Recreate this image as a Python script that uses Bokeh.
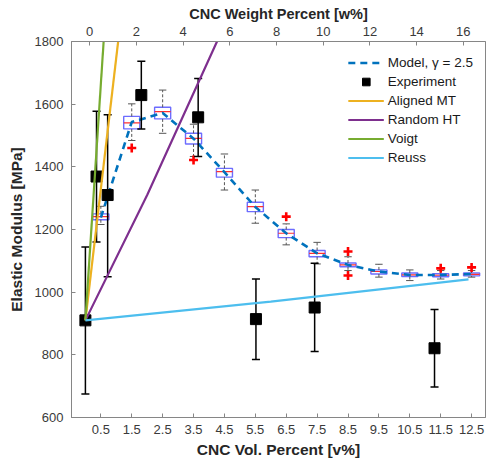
import math
from bokeh.plotting import figure
from bokeh.models import Range1d, LinearAxis, FixedTicker, Legend, LegendItem
from bokeh.embed import file_html
from bokeh.resources import INLINE

# ---------------- data ----------------
vol_ticks = [0.5, 1.5, 2.5, 3.5, 4.5, 5.5, 6.5, 7.5, 8.5, 9.5, 10.5, 11.5, 12.5]
wt_ticks = [0, 2, 4, 6, 8, 10, 12, 14, 16]
y_ticks = [600, 800, 1000, 1200, 1400, 1600, 1800]

# model box plots (vol %)
box_x = [0.5, 1.5, 2.5, 3.5, 4.5, 5.5, 6.5, 7.5, 8.5, 9.5, 10.5, 11.5, 12.5]
box_wlo = [1216, 1484, 1507, 1433, 1326, 1220, 1151, 1090, 1069, 1048, 1037, 1042, 1048]
box_q1 = [1231, 1521, 1553, 1473, 1367, 1257, 1174, 1113, 1081, 1058, 1050, 1049, 1052]
box_med = [1241, 1540, 1576, 1491, 1385, 1273, 1188, 1124, 1087, 1066, 1055, 1054, 1057]
box_q3 = [1250, 1561, 1590, 1507, 1395, 1287, 1200, 1133, 1093, 1071, 1061, 1059, 1061]
box_whi = [1274, 1601, 1645, 1536, 1441, 1326, 1218, 1159, 1113, 1089, 1071, 1069, 1069]
outlier_x = [1.5, 3.5, 6.5, 8.5, 8.5, 11.5, 12.5]
outlier_y = [1460, 1422, 1241, 1130, 1053, 1076, 1079]

# model curve, gamma = 2.5
model_x = [0.5, 1.5, 2.5, 3.5, 4.5, 5.5, 6.5, 7.5, 8.5, 9.5, 10.5, 11.5, 12.5]
model_y = [1238, 1543, 1572, 1490, 1383, 1272, 1188, 1124, 1087, 1066, 1055, 1055, 1058]

# experiments
exp_x = [0.0, 0.36, 0.72, 1.81, 3.65, 5.52, 7.42, 11.3]
exp_y = [910, 1369, 1310, 1629, 1558, 914, 951, 821]
exp_lo = [675, 1160, 1049, 1521, 1433, 785, 811, 697]
exp_hi = [1144, 1577, 1566, 1737, 1682, 1042, 1092, 945]

# analytical bounds
aligned_x = [0.0, 1.06]
aligned_y = [910, 1800]
random_x = [0.0, 2.0, 4.26]
random_y = [910, 1310, 1800]
voigt_x = [0.0, 0.59]
voigt_y = [910, 1800]
reuss_x = [0.0, 6.0, 12.4]
reuss_y = [910, 970, 1041]

# ---------------- figure ----------------
FONT = "Liberation Sans"
AX = "#868686"
TXT = "#3a3a3a"

p = figure(width=486, height=465, output_backend="svg", toolbar_location=None,
           x_range=Range1d(-0.45, 12.95), y_range=Range1d(600, 1800),
           x_axis_location=None, y_axis_location=None,
           min_border_left=71, min_border_right=1, min_border_top=41,
           min_border_bottom=48)
p.xgrid.visible = False
p.ygrid.visible = False
p.outline_line_color = AX
p.outline_line_width = 1
p.background_fill_color = "white"

bottom_axis = LinearAxis(ticker=FixedTicker(ticks=vol_ticks),
                         axis_label="CNC Vol. Percent [v%]")
left_axis = LinearAxis(ticker=FixedTicker(ticks=y_ticks),
                       axis_label="Elastic Modulus [MPa]")
p.extra_x_ranges = {"wt": Range1d(-0.78, 16.95)}
top_axis = LinearAxis(x_range_name="wt", ticker=FixedTicker(ticks=wt_ticks),
                      axis_label="CNC Weight Percent [w%]")
p.add_layout(bottom_axis, "below")
p.add_layout(left_axis, "left")
p.add_layout(top_axis, "above")

for ax in [bottom_axis, top_axis, left_axis]:
    ax.axis_line_color = AX
    ax.major_tick_line_color = AX
    ax.major_tick_in = 4
    ax.major_tick_out = 0
    ax.minor_tick_line_color = None
    ax.major_label_text_font = FONT
    ax.major_label_text_font_size = "13px"
    ax.major_label_text_color = TXT
    ax.axis_label_text_font = FONT
    ax.axis_label_text_font_style = "bold"
    ax.axis_label_text_color = "#262626"

bottom_axis.axis_label_text_font_size = "15.5px"
bottom_axis.major_label_standoff = 7
bottom_axis.axis_label_standoff = 4
top_axis.axis_label_text_font_size = "14.5px"
top_axis.major_label_standoff = 6
top_axis.axis_label_standoff = 2
left_axis.axis_label_text_font_size = "15.5px"
left_axis.major_label_standoff = 8
left_axis.axis_label_standoff = 7

# ---------------- box plots ----------------
half_box = 0.26
half_cap = 0.12
p.vbar(x=box_x, width=2 * half_box, bottom=box_q1, top=box_q3,
       fill_alpha=0, line_color="#3b3bff", line_alpha=0.75, line_width=1.4)
p.segment(x0=[x - half_box for x in box_x], y0=box_med,
          x1=[x + half_box for x in box_x], y1=box_med,
          line_color="#ff3030", line_width=1.2)
p.segment(x0=box_x, y0=box_q3, x1=box_x, y1=box_whi,
          line_color="#555555", line_dash="3 2", line_width=1)
p.segment(x0=box_x, y0=box_q1, x1=box_x, y1=box_wlo,
          line_color="#555555", line_dash="3 2", line_width=1)
p.segment(x0=[x - half_cap for x in box_x], y0=box_whi,
          x1=[x + half_cap for x in box_x], y1=box_whi,
          line_color="#555555", line_width=1)
p.segment(x0=[x - half_cap for x in box_x], y0=box_wlo,
          x1=[x + half_cap for x in box_x], y1=box_wlo,
          line_color="#555555", line_width=1)
p.scatter(x=outlier_x, y=outlier_y, marker="cross", size=9,
          line_color="#ff0000", line_width=2.6)

# ---------------- model ----------------
r_model = p.line(model_x, model_y, line_color="#0072BD", line_width=2.6,
                 line_dash="7 5")

# ---------------- experiments ----------------
half_ecap = 0.13
p.segment(x0=exp_x, y0=exp_lo, x1=exp_x, y1=exp_hi,
          line_color="black", line_width=1.5)
p.segment(x0=[x - half_ecap for x in exp_x], y0=exp_hi,
          x1=[x + half_ecap for x in exp_x], y1=exp_hi,
          line_color="black", line_width=1.5)
p.segment(x0=[x - half_ecap for x in exp_x], y0=exp_lo,
          x1=[x + half_ecap for x in exp_x], y1=exp_lo,
          line_color="black", line_width=1.5)
r_exp = p.scatter(exp_x, exp_y, marker="square", size=11,
                  fill_color="black", line_color="black")

# ---------------- bounds ----------------
r_al = p.line(aligned_x, aligned_y, line_color="#EDB120", line_width=2.2)
r_rh = p.line(random_x, random_y, line_color="#7E2F8E", line_width=2.2)
r_vo = p.line(voigt_x, voigt_y, line_color="#77AC30", line_width=2.2)
r_re = p.line(reuss_x, reuss_y, line_color="#4DBEEE", line_width=2.2)

legend = Legend(items=[
    LegendItem(label="Model, γ = 2.5", renderers=[r_model]),
    LegendItem(label="Experiment", renderers=[r_exp]),
    LegendItem(label="Aligned MT", renderers=[r_al]),
    LegendItem(label="Random HT", renderers=[r_rh]),
    LegendItem(label="Voigt", renderers=[r_vo]),
    LegendItem(label="Reuss", renderers=[r_re]),
], location="top_right")
legend.label_text_font = FONT
legend.label_text_font_size = "13.5px"
legend.label_text_color = "#1a1a1a"
legend.glyph_width = 36
legend.glyph_height = 19
legend.label_height = 19
legend.spacing = 0
legend.padding = 5
legend.margin = 7
legend.label_standoff = 4
legend.border_line_alpha = 0
legend.background_fill_alpha = 1
p.add_layout(legend)

open("out.html", "w").write(file_html(p, INLINE))
